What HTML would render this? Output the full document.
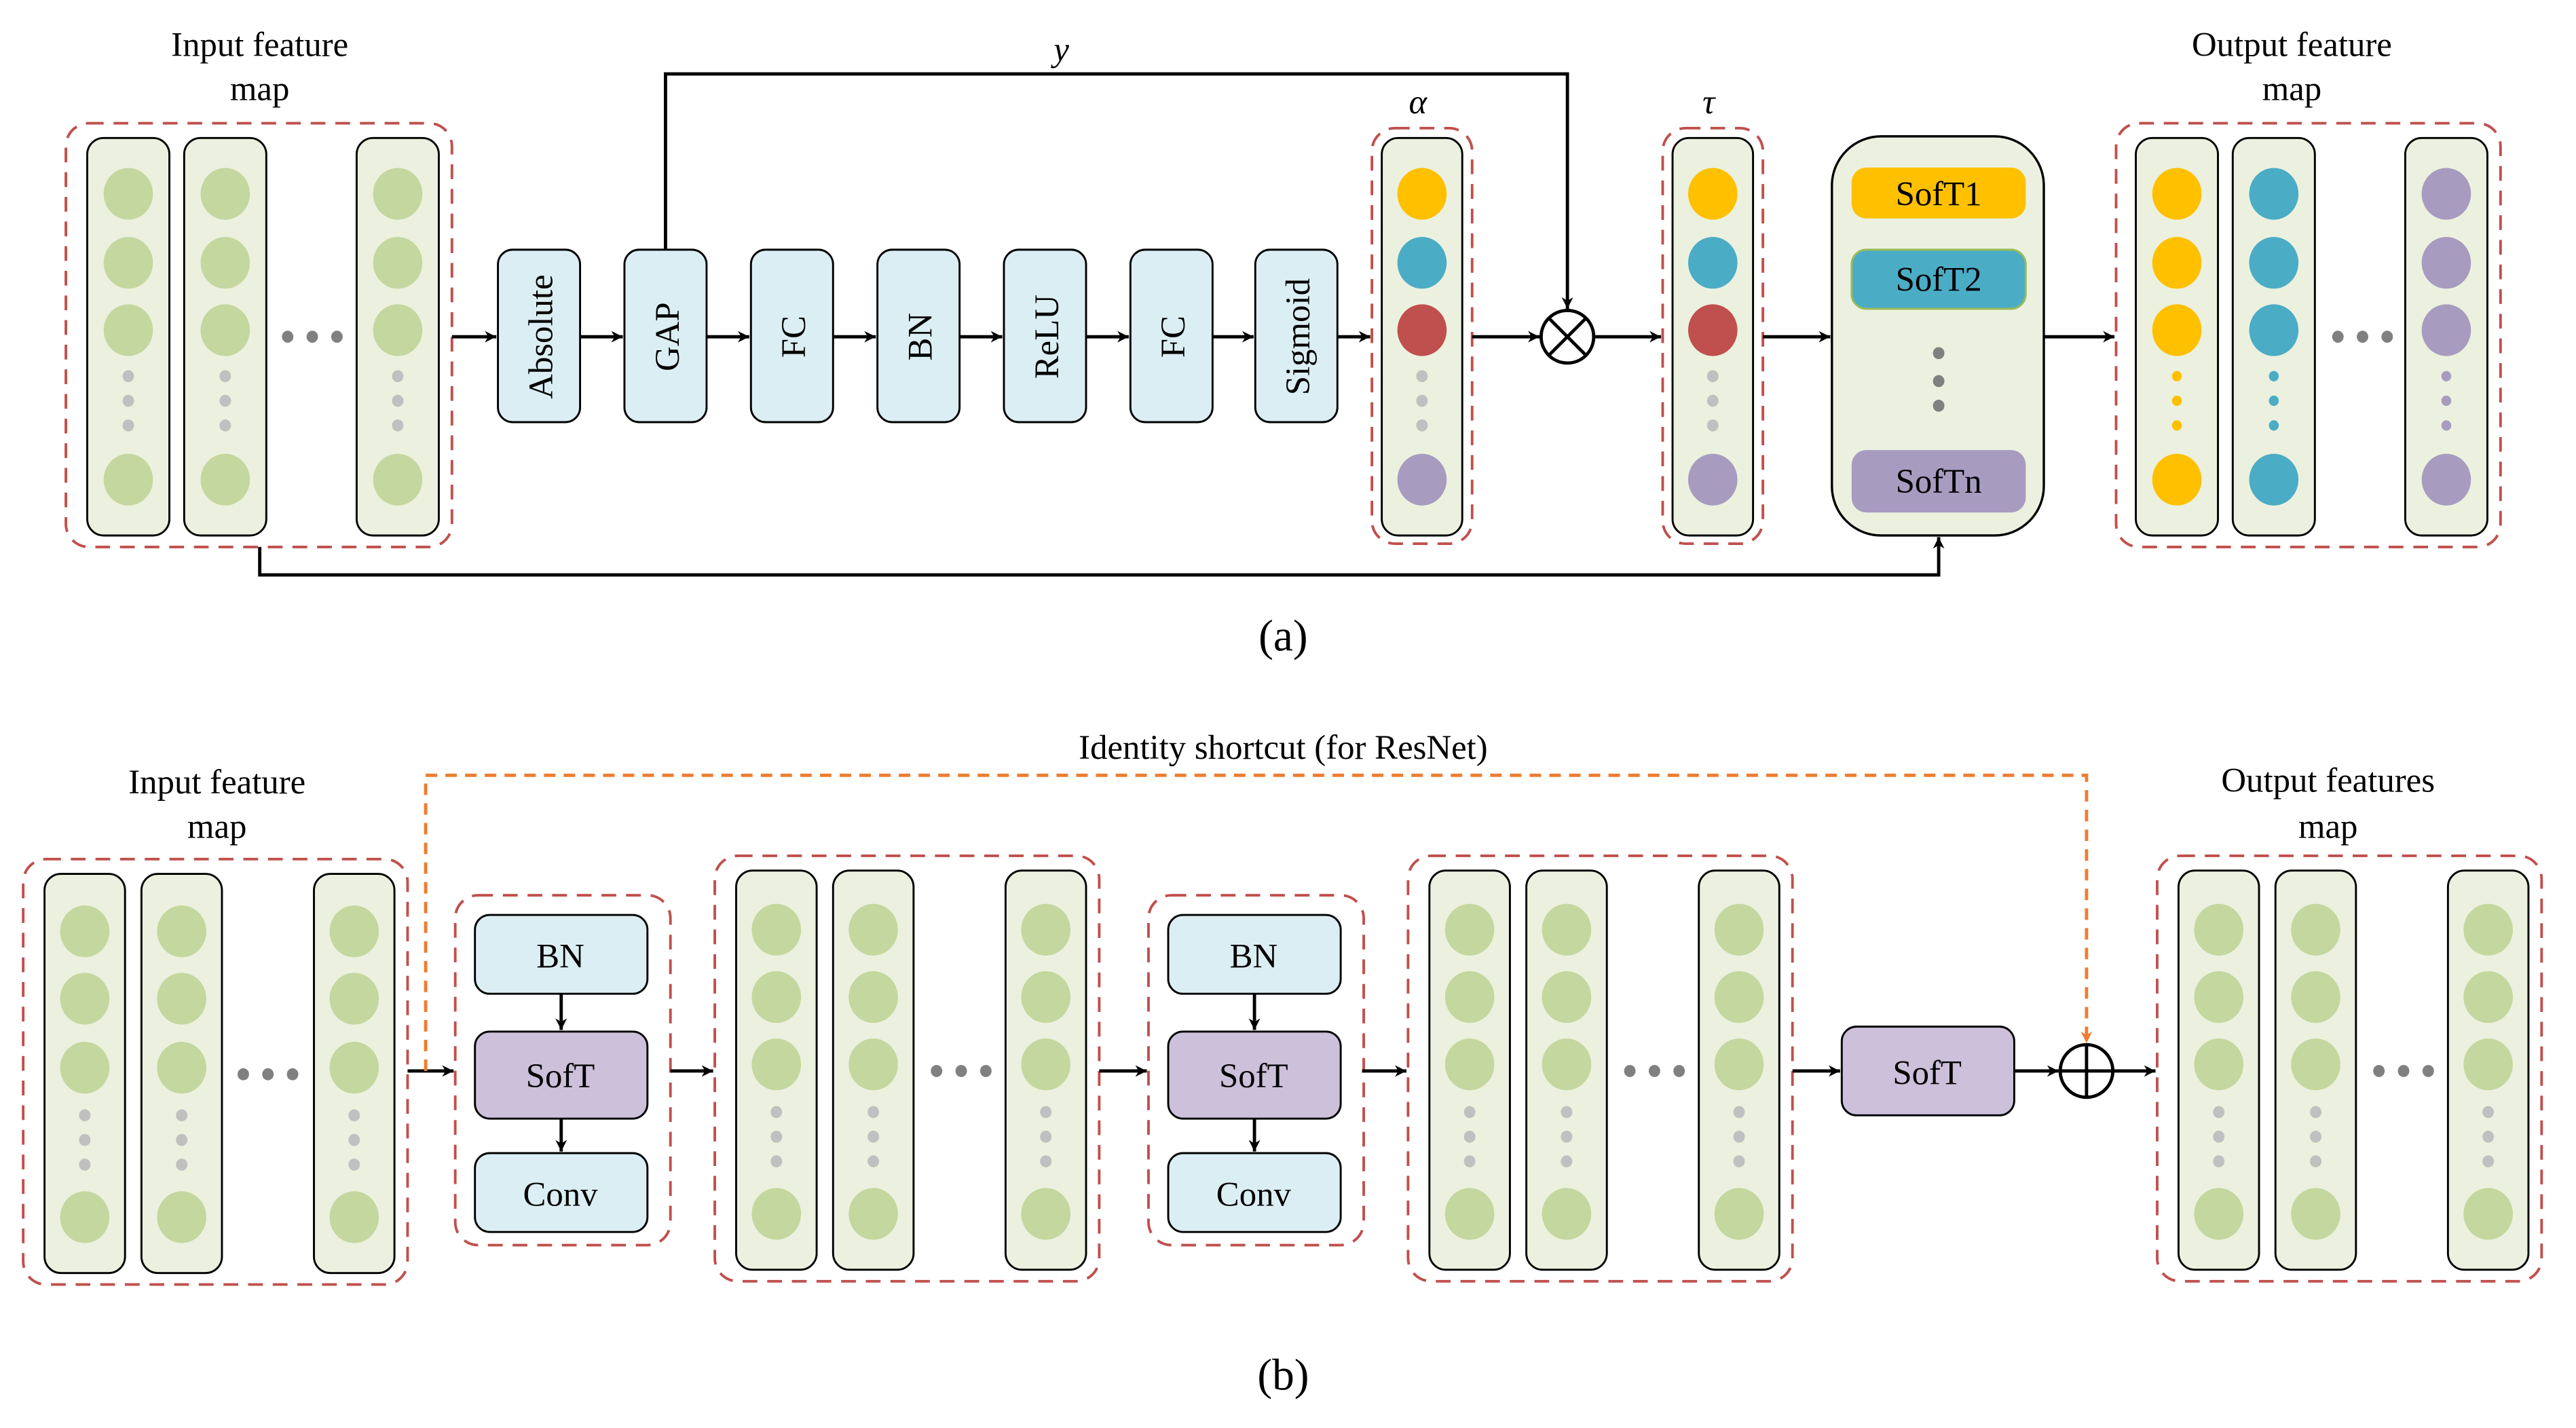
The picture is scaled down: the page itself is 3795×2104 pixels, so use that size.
<!DOCTYPE html>
<html><head><meta charset="utf-8"><style>
html,body{margin:0;padding:0;background:#fff}
svg{display:block}
text{font-family:"Liberation Serif",serif;fill:#000}
</style></head><body>
<svg id="s" width="3795" height="2104" viewBox="0 0 1560 865" xmlns="http://www.w3.org/2000/svg">
<defs>
<marker id="ar" viewBox="0 0 10 10" refX="10" refY="5" markerWidth="7" markerHeight="7" orient="auto" markerUnits="userSpaceOnUse"><path d="M0,0 L10,5 L0,10 L3,5 z" fill="#000"/></marker>
<marker id="ao" viewBox="0 0 10 10" refX="10" refY="5" markerWidth="7" markerHeight="7" orient="auto" markerUnits="userSpaceOnUse"><path d="M0,0 L10,5 L0,10 L3,5 z" fill="#ed7d31"/></marker>
</defs>
<g transform="scale(0.995)">
<g id="g"></g>
<g font-size="21" text-anchor="middle">
<text x="158" y="34">Input feature</text><text x="158" y="61">map</text>
<text x="1395" y="34">Output feature</text><text x="1395" y="61">map</text>
<text x="646" y="37" font-style="italic">y</text>
<text x="863" y="69" font-style="italic">α</text>
<text x="1040" y="69" font-style="italic">τ</text>
<text x="781" y="396" font-size="27">(a)</text>
<text x="781" y="462">Identity shortcut (for ResNet)</text>
<text x="132" y="483">Input feature</text><text x="132" y="510">map</text>
<text x="1417" y="482">Output features</text><text x="1417" y="510">map</text>
<text x="781" y="846" font-size="27">(b)</text>
</g>
<g font-size="21" text-anchor="middle">
<text transform="translate(336,205) rotate(-90)">Absolute</text>
<text transform="translate(413,205) rotate(-90)">GAP</text>
<text transform="translate(490,205) rotate(-90)">FC</text>
<text transform="translate(567,205) rotate(-90)">BN</text>
<text transform="translate(644,205) rotate(-90)">ReLU</text>
<text transform="translate(721,205) rotate(-90)">FC</text>
<text transform="translate(797,205) rotate(-90)">Sigmoid</text>
<text x="1180" y="125">SofT1</text>
<text x="1180" y="177">SofT2</text>
<text x="1180" y="300">SofTn</text>
<text x="341" y="589">BN</text><text x="341" y="662">SofT</text><text x="341" y="734">Conv</text>
<text x="763" y="589">BN</text><text x="763" y="662">SofT</text><text x="763" y="734">Conv</text>
<text x="1173" y="660">SofT</text>
</g>
</g>
</svg>
<script>
var g=document.getElementById('g'),NS='http://www.w3.org/2000/svg';
function el(t,a){var e=document.createElementNS(NS,t);for(var k in a)e.setAttribute(k,a[k]);g.appendChild(e);return e;}
function dash(x1,y1,x2,y2){el('rect',{x:x1,y:y1,width:x2-x1,height:y2-y1,rx:14,fill:'none',stroke:'#c0504d','stroke-width':1.6,'stroke-dasharray':'9,6'});}
function col(x1,y1,x2,y2){el('rect',{x:x1,y:y1,width:x2-x1,height:y2-y1,rx:10,fill:'#ebf1de',stroke:'#000','stroke-width':1.2});}
function circ(x,y,r,c){el('ellipse',{cx:x,cy:y,rx:r,ry:r*1.05,fill:c});}
function arr(pts,m,col,da){var a={points:pts,fill:'none',stroke:col||'#000','stroke-width':2,'marker-end':'url(#'+(m||'ar')+')'};if(da)a['stroke-dasharray']=da;el('polyline',a);}
function box(x1,y1,x2,y2,f,s){el('rect',{x:x1,y:y1,width:x2-x1,height:y2-y1,rx:9,fill:f,stroke:s||'#000','stroke-width':1.2});}
var G='#c4d79f',Y='#ffc000',T='#4bacc6',R='#c0504d',P='#a89bc0',GR='#c0c0c0',DG='#808080';
function fcol(x1,y1,x2,y2,cy,colors,dotc,dr){col(x1,y1,x2,y2);var cx=(x1+x2)/2;
 for(var i=0;i<3;i++)circ(cx,cy[i],15,colors[i]);
 for(var i=0;i<3;i++)circ(cx,cy[3+i],dr||3.5,dotc||GR);
 circ(cx,cy[6],15,colors[3]);}
function hdots(x,y){for(var i=0;i<3;i++)circ(x+i*15,y,3.5,DG);}
var cyA=[118,160,201,229,244,259,292];
dash(40,75,275,333);
[[53,103],[112,162],[217,267]].forEach(function(c){fcol(c[0],84,c[1],326,cyA,[G,G,G,G]);});
hdots(175,205);
var bx=[303,380,457,534,611,688,764];
bx.forEach(function(x){box(x,152,x+50,257,'#dbeef3');});
arr('275,205 302,205');
for(var i=0;i<6;i++)arr((bx[i]+50)+',205 '+(bx[i+1]-1)+',205');
arr('814,205 834,205');
dash(835,78,896,331);fcol(841,84,890,326,cyA,[Y,T,R,P]);
arr('896,205 937,205');
el('circle',{cx:954,cy:205,r:16,fill:'#fff',stroke:'#000','stroke-width':2});
el('path',{d:'M942.7,193.7 L965.3,216.3 M965.3,193.7 L942.7,216.3',stroke:'#000','stroke-width':2});
arr('405,152 405,45 954,45 954,188');
arr('970,205 1011,205');
dash(1012,78,1073,331);fcol(1018,84,1067,326,cyA,[Y,T,R,P]);
arr('1073,205 1114,205');
el('rect',{x:1115,y:83,width:129,height:243,rx:30,fill:'#ebf1de',stroke:'#000','stroke-width':1.4});
box(1127,102,1233,133,Y,'none');box(1127,152,1233,188,T,'#9bbb59');box(1127,274,1233,312,P,'none');
[215,232,247].forEach(function(y){circ(1180,y,3.5,DG);});
arr('1244,205 1287,205');
dash(1288,75,1522,333);
fcol(1300,84,1350,326,cyA,[Y,Y,Y,Y],Y,3);
fcol(1359,84,1409,326,cyA,[T,T,T,T],T,3);
fcol(1464,84,1514,326,cyA,[P,P,P,P],P,3);
hdots(1423,205);
arr('158,333 158,350 1180,350 1180,327');
var cyB=[567,608,650,679,694,709,741];
dash(14,523,248,782);
[[27,76],[86,135],[191,240]].forEach(function(c){fcol(c[0],532,c[1],775,cyB,[G,G,G,G]);});
hdots(148,654);
arr('248,652 276,652');
function blk(x){dash(x,545,x+131,758);box(x+12,557,x+117,605,'#dbeef3');box(x+12,628,x+117,681,'#ccc0da');box(x+12,702,x+117,750,'#dbeef3');
 arr((x+64.5)+',605 '+(x+64.5)+',627');arr((x+64.5)+',681 '+(x+64.5)+',701');}
blk(277);blk(699);
var cyM=[566,607,648,677,692,707,739];
function fmap(x){dash(x,521,x+234,780);[[13,62],[72,121],[177,226]].forEach(function(c){fcol(x+c[0],530,x+c[1],773,cyM,[G,G,G,G]);});hdots(x+135,652);}
fmap(435);fmap(857);fmap(1313);
arr('408,652 434,652');arr('829,652 856,652');arr('669,652 698,652');
arr('1091,652 1120,652');
box(1121,625,1226,679,'#ccc0da');
arr('1226,652 1253,652');
el('circle',{cx:1270,cy:652,r:16,fill:'#fff',stroke:'#000','stroke-width':2});
el('path',{d:'M1254,652 L1286,652 M1270,636 L1270,668',stroke:'#000','stroke-width':2});
arr('1286,652 1312,652');
arr('259,652 259,472 1270,472 1270,635','ao','#ed7d31','7,5');
</script>
</body></html>
